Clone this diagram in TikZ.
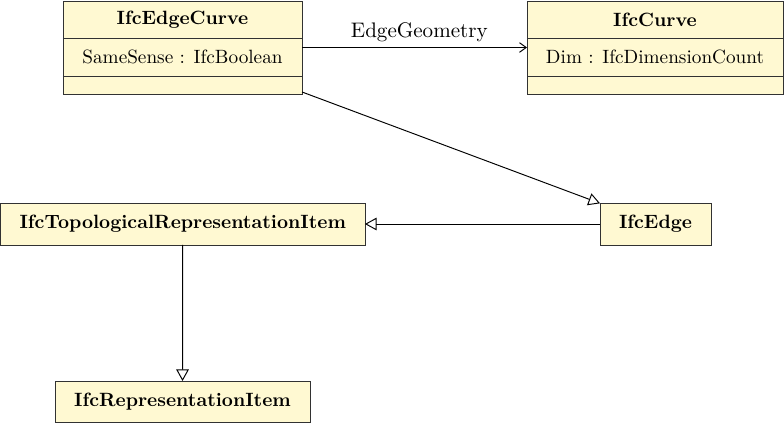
\documentclass[tikz,border=0pt]{standalone}
\usetikzlibrary{arrows.meta}
\definecolor{classfill}{RGB}{255,249,210}
\definecolor{classline}{RGB}{50,50,50}
\begin{document}
\begin{tikzpicture}[x=0.52pt,y=-0.52pt,
  box/.style={draw=classline, fill=classfill, line width=0.45pt, inner sep=0pt, outer sep=0pt},
  divider/.style={draw=classline, line width=0.45pt},
  label/.style={inner sep=0pt, font=\normalsize},
  gen/.style={draw=black, line width=0.5pt, -{Triangle[open,length=6pt,width=6.5pt]}},
  assoc/.style={draw=black, line width=0.5pt, -{Straight Barb[length=3.5pt,width=5pt]}}]
\useasboundingbox (0,0) rectangle (784,423);
% class boxes
\node[box, minimum width=124.3pt, minimum height=48.4pt] (ec) at (182.5,47.5) {};
\node[box, minimum width=133.1pt, minimum height=48.4pt] (cv) at (655,47.5) {};
\node[box, minimum width=189.5pt, minimum height=21.8pt] (tr) at (182.75,224) {};
\node[box, minimum width=57.7pt, minimum height=21.8pt] (ed) at (655.5,224) {};
\node[box, minimum width=132.6pt, minimum height=21.3pt] (ri) at (182.5,401.5) {};
% compartments
\coordinate (d1) at (0,38);
\coordinate (d2) at (0,76);
\draw[divider] (ec.west |- d1) -- (ec.east |- d1);
\draw[divider] (ec.west |- d2) -- (ec.east |- d2);
\draw[divider] (cv.west |- d1) -- (cv.east |- d1);
\draw[divider] (cv.west |- d2) -- (cv.east |- d2);
% texts
\node[label] (ect) at (182.5,19.5) {\textbf{IfcEdgeCurve}};
\node[label] (eca) at (182.5,57) {SameSense : IfcBoolean};
\node[label] (cvt) at (655,19.5) {\textbf{IfcCurve}};
\node[label] (cva) at (655,57) {Dim : IfcDimensionCount};
\node[label] (trt) at (tr.center) {\textbf{IfcTopologicalRepresentationItem}};
\node[label] (edt) at (ed.center) {\textbf{IfcEdge}};
\node[label] (rit) at (ri.center) {\textbf{IfcRepresentationItem}};
% connectors
\draw[assoc] (ec.east) -- node[midway, above, yshift=2.6pt, xshift=2.5pt, inner sep=0pt, font=\fontsize{10.95}{13}\selectfont] {EdgeGeometry} (cv.west);
\draw[gen] (ec) -- (ed);
\draw[gen] (ed) -- (tr);
\draw[gen] (tr) -- (ri);
\end{tikzpicture}
\end{document}
